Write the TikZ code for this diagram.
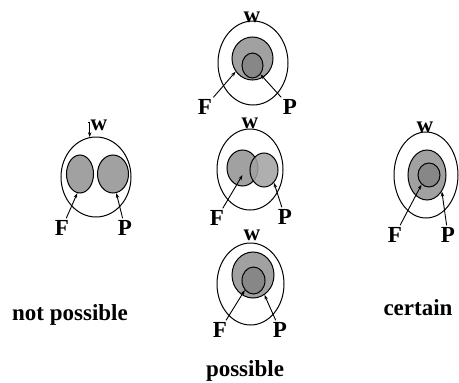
\documentclass[tikz,border=0pt]{standalone}
\usepackage{fontspec}
\setmainfont{Liberation Serif}
\usetikzlibrary{arrows.meta,positioning,shapes.geometric}

\begin{document}
\begin{tikzpicture}[
  x=1pt,y=-1pt,
  >={Stealth[length=5pt,width=3.5pt]},
  world/.style 2 args={ellipse,draw,line width=1pt,inner sep=0pt,
    minimum width=#1,minimum height=#2},
  blob/.style 2 args={world={#1}{#2},fill=black!37},
  core/.style 2 args={world={#1}{#2},fill=black!47},
  lab/.style={inner sep=2pt,font=\bfseries\fontsize{23}{26}\selectfont},
  pointer/.style={->,line width=0.9pt}
]
  \useasboundingbox (0,0) rectangle (459,383);

  % not possible
  \node[world={70pt}{80pt}] (oL) at (96,177) {};
  \node[blob={27pt}{38pt}] (fL) at (80,174) {};
  \node[blob={31pt}{38pt}] (pL) at (113,174) {};
  \node[lab] (wL) at (99,125) {w};
  \node[lab] (FL) at (62,228) {F};
  \node[lab] (PL) at (125,228) {P};
  \node[lab] (notposs) at (70,315) {not possible};
  \draw[pointer] ([yshift=3pt]wL.west) -| (oL.99);
  \draw[pointer] (FL) -- (fL.262);
  \draw[pointer] (PL) -- (pL.280);

  % possible, top
  \node[world={70pt}{84pt}] (oT) at (253,63) {};
  \node[blob={41pt}{43pt}] (gT) at (252.5,58.5) {};
  \node[core={21pt}{25pt}] (iT) at (252.5,65.5) {};
  \node[lab] (wT) at (252,17) {w};
  \node[lab] (FT) at (205,107) {F};
  \node[lab] (PT) at (290,107) {P};
  \draw[pointer] (FT) -- (gT.218);
  \draw[pointer] (PT) -- (iT.312);

  % possible, middle
  \node[world={66pt}{81pt}] (oM) at (250,169.5) {};
  \node[blob={31pt}{36pt}] (fM) at (242.5,168) {};
  \node[blob={28pt}{34pt},fill opacity=0.85] (pM) at (264,170) {};
  \node[lab] (wM) at (250,123) {w};
  \node[lab] (FM) at (217,218) {F};
  \node[lab] (PM) at (285,217) {P};
  \draw[pointer] (FM) -- ([yshift=-7pt]fM.center);
  \draw[pointer] (PM) -- (pM.308);

  % possible, bottom
  \node[world={67pt}{82pt}] (oB) at (250.5,284) {};
  \node[blob={42pt}{46pt}] (gB) at (253,275) {};
  \node[core={23pt}{27pt}] (iB) at (253.5,280.5) {};
  \node[lab] (wB) at (252,235) {w};
  \node[lab] (FB) at (220,330) {F};
  \node[lab] (PB) at (280,330) {P};
  \node[lab] (poss) at (245,371) {possible};
  \draw[pointer] (FB) -- (iB.228);
  \draw[pointer] (PB) -- (gB.300);

  % certain
  \node[world={64pt}{86pt}] (oR) at (426,175) {};
  \node[blob={38pt}{50pt}] (gR) at (427,175) {};
  \node[core={22pt}{24pt}] (iR) at (429,175) {};
  \node[lab] (wR) at (425,127) {w};
  \node[lab] (FR) at (395,235) {F};
  \node[lab] (PR) at (448,235) {P};
  \node[lab] (cert) at (418,308) {certain};
  \draw[pointer] (FR) -- (iR.232);
  \draw[pointer] (PR) -- (gR.312);
\end{tikzpicture}
\end{document}
